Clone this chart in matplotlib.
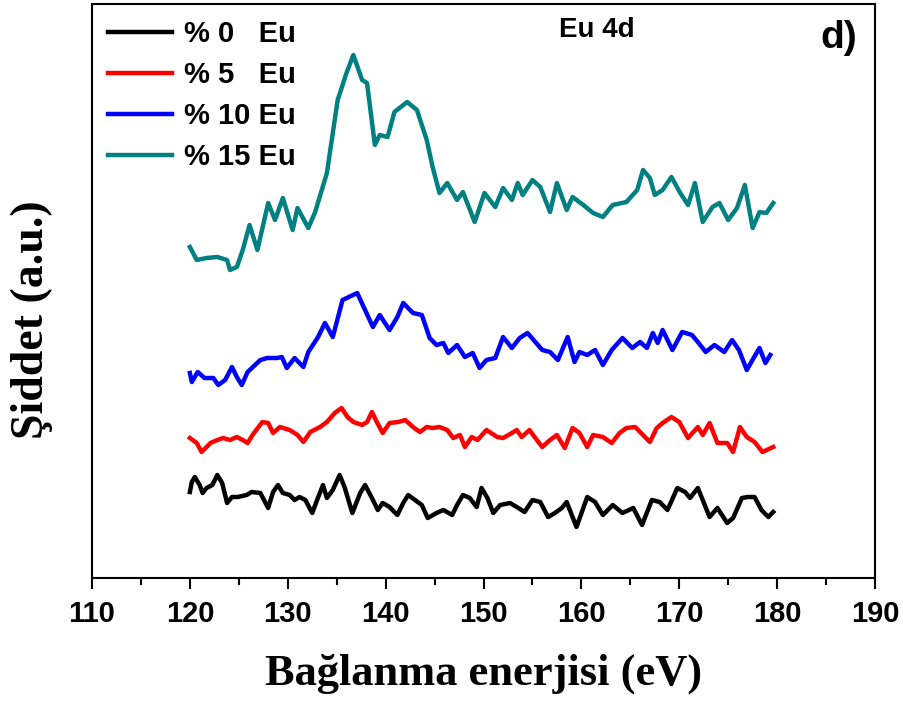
import matplotlib
matplotlib.use("Agg")
import matplotlib.pyplot as plt
from matplotlib.ticker import MultipleLocator

# Binding energy (eV) and intensity (a.u.) for each sample
x0 = [120.0,120.2,120.5,121.0,121.3,121.7,122.3,122.8,123.3,123.8,124.3,124.9,125.8,126.3,127.2,128.0,128.5,129.0,129.5,130.2,130.7,131.2,131.8,132.5,133.0,133.6,134.0,134.6,135.3,135.8,136.6,137.4,137.9,138.6,139.2,139.7,140.4,141.2,141.8,142.3,143.0,143.7,144.3,145.2,145.9,146.8,147.3,147.9,148.6,149.3,149.8,150.4,151.0,151.7,152.7,153.4,154.2,155.0,155.8,156.6,157.3,158.0,158.5,159.5,160.6,161.4,162.2,163.2,164.2,165.3,166.2,167.2,168.0,168.8,169.8,170.6,171.1,171.9,173.1,173.9,174.9,175.5,176.4,177.0,177.7,178.4,179.1,179.6]
y0 = [86,96,101,93,85,90,93,103,95,75,81,81,83,86,85,70,86,93,85,83,78,81,78,65,78,93,80,88,103,91,65,85,93,80,68,75,71,63,75,83,78,73,60,65,68,63,73,83,80,71,90,80,65,73,75,71,66,78,76,61,65,70,76,51,81,76,63,73,65,70,53,78,76,68,90,86,80,90,61,70,55,60,80,81,81,68,61,66]

x5 = [120.0,120.7,121.2,122.1,122.8,123.4,124.1,124.8,125.4,125.9,126.4,127.4,128.0,128.5,129.2,130.2,131.0,131.6,132.3,133.3,134.0,134.8,135.5,136.1,136.7,137.6,138.1,138.6,139.1,139.7,140.4,141.3,142.0,142.8,143.5,144.2,144.8,145.5,146.3,146.9,147.6,148.1,148.8,149.4,150.3,151.4,152.0,152.9,153.4,153.9,154.7,155.3,156.0,156.8,157.5,158.3,159.1,159.8,160.6,161.2,162.2,163.1,163.9,164.6,165.5,166.3,167.0,167.7,168.3,169.2,170.0,170.9,171.9,172.4,173.1,173.9,174.9,175.5,176.2,176.9,177.7,178.5,179.6]
y5 = [140,135,126,135,138,140,138,141,138,135,143,156,155,145,151,148,143,136,146,151,156,165,170,161,156,153,156,166,156,145,155,156,158,151,146,151,150,151,148,140,143,131,141,138,148,141,140,145,148,141,148,140,131,138,143,130,150,145,131,143,141,135,145,150,151,143,136,150,155,161,156,140,151,143,155,135,135,126,151,141,136,126,131]

x10 = [120.0,120.2,120.8,121.5,122.4,122.9,123.6,124.3,124.8,125.3,125.9,127.2,127.9,128.9,129.4,129.9,130.7,131.6,132.1,133.1,133.8,134.6,135.6,137.1,137.9,138.7,139.4,140.4,141.2,141.8,142.8,143.7,144.5,145.2,145.9,146.4,147.3,148.1,148.9,149.6,150.3,151.2,152.0,152.9,153.7,154.5,155.3,156.0,156.8,157.6,158.6,159.3,159.8,160.6,161.4,162.2,163.1,164.2,165.2,166.0,166.7,167.3,167.8,168.3,169.3,170.3,171.3,171.9,172.7,173.6,174.6,175.4,176.1,176.9,177.6,178.2,178.8,179.3]
y10 = [205,196,206,200,200,193,198,211,201,193,206,218,220,220,221,210,220,211,226,241,255,241,278,285,268,251,263,248,261,275,265,263,240,233,235,225,233,221,225,210,218,220,241,230,240,245,236,228,226,218,241,216,226,223,228,213,228,240,230,236,230,245,235,248,228,246,243,236,226,233,226,238,228,208,220,230,215,223]

x15 = [120.0,120.7,121.7,122.8,123.8,124.1,124.8,125.4,126.1,126.9,128.0,128.7,129.5,130.5,131.0,132.1,132.8,134.0,135.1,136.0,136.7,137.6,138.1,138.9,139.4,140.2,140.9,142.2,143.2,144.2,144.8,145.5,146.3,147.3,147.9,149.1,150.1,151.2,152.0,152.9,153.5,154.0,155.0,155.8,156.8,157.5,158.5,159.1,160.2,161.2,162.2,163.2,164.6,165.7,166.3,167.0,167.5,168.3,169.2,170.1,170.9,171.6,172.4,173.4,174.1,175.0,175.9,176.7,177.5,178.2,178.9,179.6]
y15 = [331,318,320,321,318,308,311,328,353,328,375,358,380,348,370,350,366,405,478,505,523,498,495,433,443,441,466,476,468,438,411,385,395,378,386,356,385,371,390,378,395,383,398,391,366,395,368,381,373,365,361,373,376,388,408,400,383,388,401,385,373,395,356,371,375,358,370,393,350,366,365,375]

labels = ["% 0   Eu", "% 5   Eu", "% 10 Eu", "% 15 Eu"]
colors = ["#000000", "#ff0000", "#0000ff", "#008080"]

fig = plt.figure(figsize=(9.04, 7.10), dpi=100)
ax = fig.add_axes([92/904, 1-578/710, (875-92)/904, (578-4)/710])

for xs, ys, lab, c in zip([x0, x5, x10, x15], [y0, y5, y10, y15], labels, colors):
    ax.plot(xs, ys, color=c, lw=3.2, label=lab, solid_joinstyle="round")

ax.set_xlim(110, 190)
ax.set_ylim(0, 574)
ax.xaxis.set_major_locator(MultipleLocator(10))
ax.xaxis.set_minor_locator(MultipleLocator(5))
ax.set_yticks([])
ax.tick_params(axis="x", which="major", direction="out", length=8, width=1.5, pad=8)
ax.tick_params(axis="x", which="minor", direction="out", length=5, width=1.5)
for s in ax.spines.values():
    s.set_linewidth(1.5)

for t in ax.get_xticklabels():
    t.set_fontfamily("Liberation Sans")
    t.set_fontweight("bold")
    t.set_fontsize(21)

ax.set_xlabel("Bağlanma enerjisi (eV)", family="Liberation Serif", fontweight="bold", fontsize=32, labelpad=18)
ax.set_ylabel("Şiddet (a.u.)", family="Liberation Serif", fontweight="bold", fontsize=33)
ax.yaxis.set_label_coords(-0.050, 0.45)

leg = ax.legend(loc="upper left", frameon=False, prop={"family": "Liberation Sans", "weight": "bold", "size": 21},
                handlelength=2.2, handletextpad=0.4, labelspacing=0.45, borderaxespad=0.15,
                bbox_to_anchor=(0.0, 1.0))

ax.text(0.645, 0.955, "Eu 4d", transform=ax.transAxes, ha="center", va="center",
        family="Liberation Sans", fontweight="bold", fontsize=20)
ax.text(0.953, 0.94, "d)", transform=ax.transAxes, ha="center", va="center",
        family="Liberation Sans", fontweight="bold", fontsize=28)

fig.savefig("out.png", dpi=100)
